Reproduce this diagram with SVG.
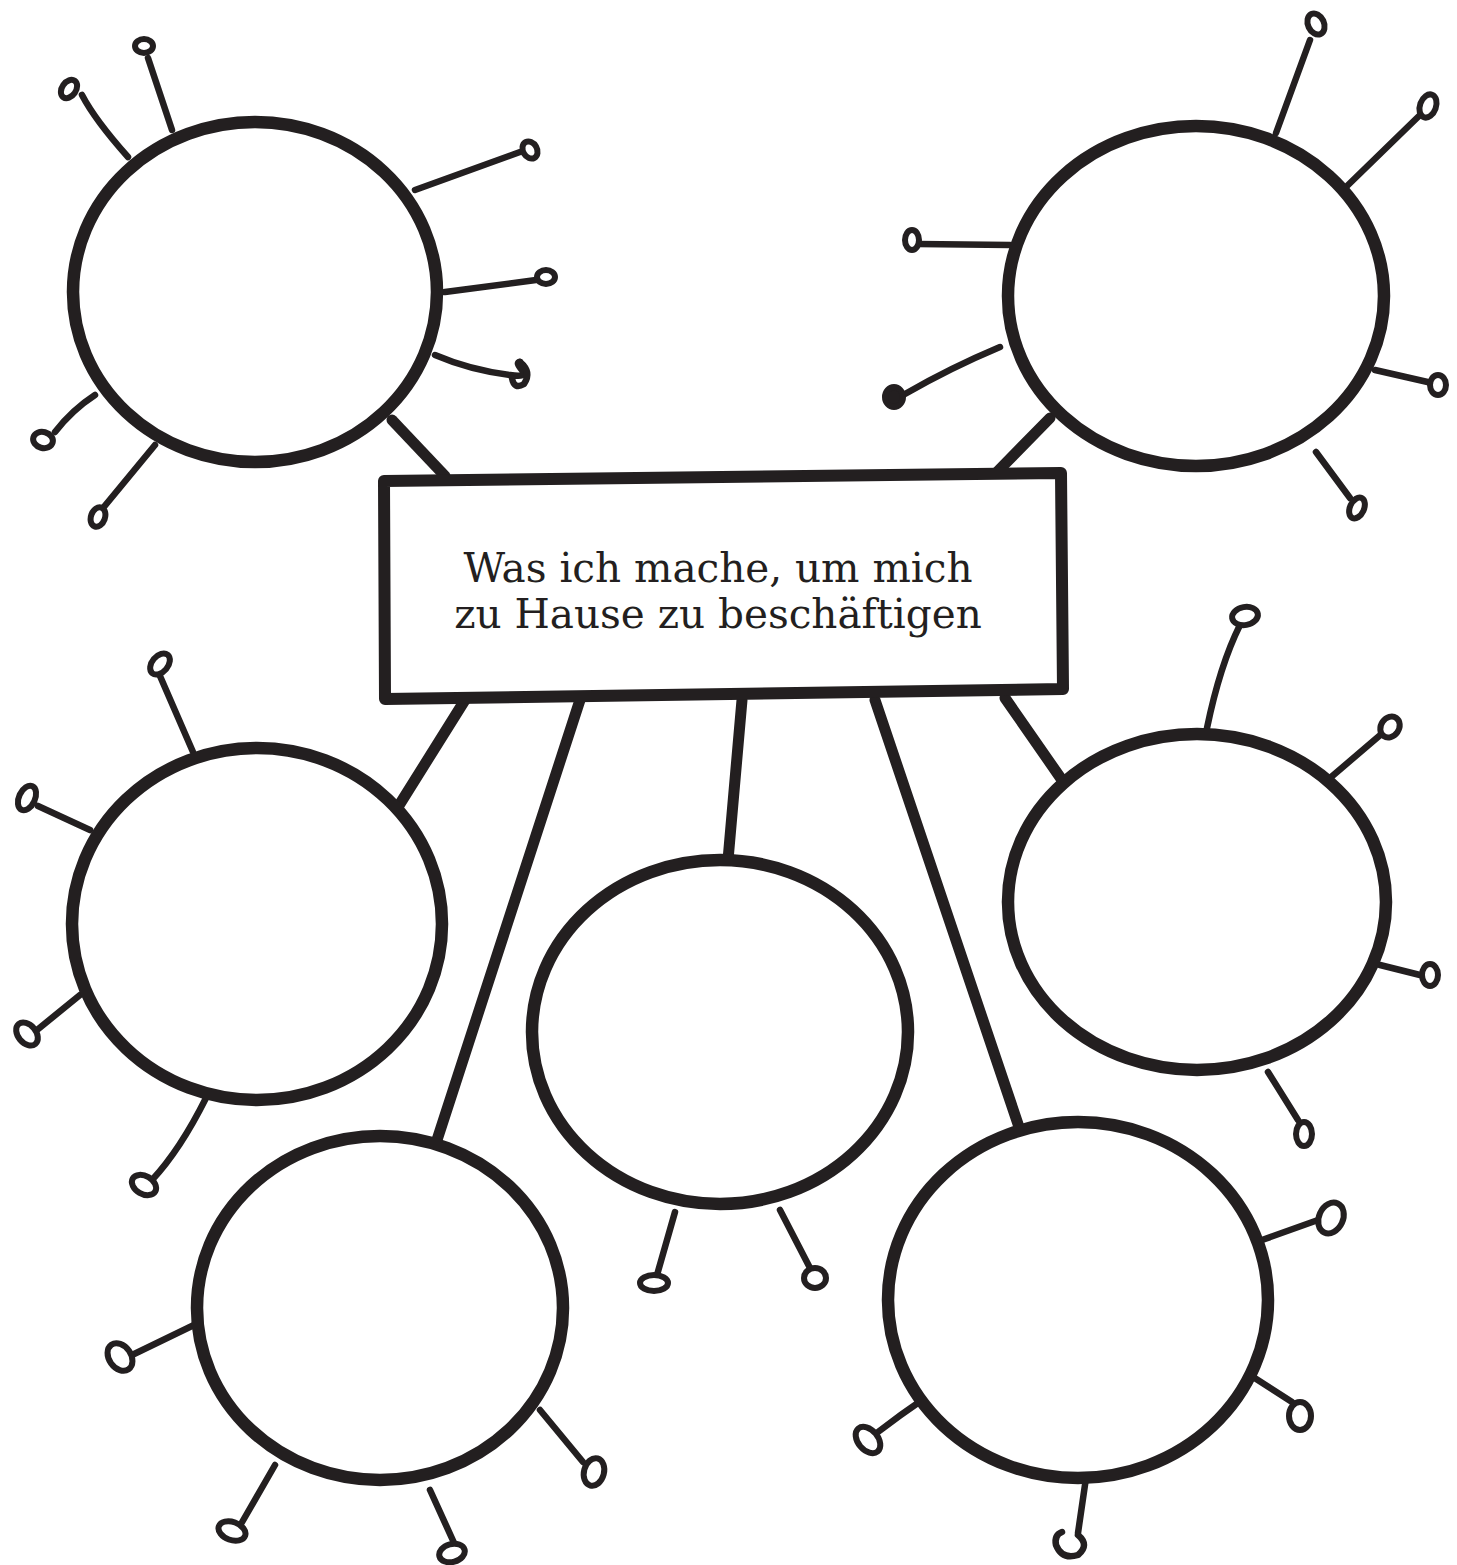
<svg xmlns="http://www.w3.org/2000/svg" width="1457" height="1565" viewBox="0 0 1457 1565">
<style>
.bg{fill:#ffffff}
.conn line{stroke:#231f20;stroke-width:11;stroke-linecap:round}
.node ellipse.c{fill:#ffffff;stroke:#231f20;stroke-width:12.5}
.t path{fill:none;stroke:#231f20;stroke-width:6.5;stroke-linecap:round;stroke-linejoin:round}
.t ellipse{fill:#ffffff;stroke:#231f20;stroke-width:6}
.box{fill:#ffffff;stroke:#231f20;stroke-width:12;stroke-linejoin:round}
.lbl{font-family:"DejaVu Serif","Liberation Serif",serif;font-size:40.5px;fill:#231f20;text-anchor:middle}
</style>
<rect class="bg" x="0" y="0" width="1457" height="1565"/>

<g id="connectors" class="conn">
  <line x1="392" y1="420" x2="445" y2="476"/>
  <line x1="1050" y1="418" x2="997" y2="472"/>
  <line x1="465" y1="700" x2="398" y2="807"/>
  <line x1="580" y1="700" x2="437" y2="1140"/>
  <line x1="742" y1="700" x2="728" y2="860"/>
  <line x1="875" y1="700" x2="1020" y2="1130"/>
  <line x1="1005" y1="698" x2="1062" y2="780"/>
</g>

<g id="node-top-left" class="node">
  <g class="t"><path d="M172,130 L148,58"/><ellipse cx="144" cy="46" rx="9" ry="7"/></g>
  <g class="t"><path d="M128,157 Q95,120 82,95"/><ellipse cx="69" cy="89" rx="7" ry="10" transform="rotate(35 69 89)"/></g>
  <g class="t"><path d="M415,190 L520,152"/><ellipse cx="530" cy="150" rx="7" ry="9" transform="rotate(-30 530 150)"/></g>
  <g class="t"><path d="M445,292 L536,280"/><ellipse cx="546" cy="277" rx="9" ry="7"/></g>
  <g class="t"><path d="M435,355 Q470,370 510,375 Q528,378 522,370 Q515,362 520,362"/></g>
  <g class="t"><path d="M520,362 Q532,372 524,384 Q514,390 512,378"/></g>
  <g class="t"><path d="M95,395 Q72,410 55,432"/><ellipse cx="43" cy="440" rx="10" ry="8" transform="rotate(15 43 440)"/></g>
  <g class="t"><path d="M155,445 L103,508"/><ellipse cx="98" cy="517" rx="7" ry="10" transform="rotate(20 98 517)"/></g>
  <ellipse class="c" cx="255" cy="292" rx="182" ry="170"/>
</g>

<g id="node-top-right" class="node">
  <g class="t"><path d="M1276,133 L1310,40"/><ellipse cx="1316" cy="24" rx="8" ry="11" transform="rotate(-25 1316 24)"/></g>
  <g class="t"><path d="M1346,187 L1420,115"/><ellipse cx="1428" cy="106" rx="8" ry="12" transform="rotate(20 1428 106)"/></g>
  <g class="t"><path d="M1010,245 L918,244"/><ellipse cx="912" cy="240" rx="7" ry="10"/></g>
  <g class="t"><path d="M1000,347 Q950,368 905,394"/><ellipse cx="894" cy="397" rx="9" ry="10" style="fill:#231f20"/></g>
  <g class="t"><path d="M1375,370 L1432,383"/><ellipse cx="1438" cy="385" rx="8" ry="10"/></g>
  <g class="t"><path d="M1316,452 L1350,498"/><ellipse cx="1357" cy="508" rx="7" ry="11" transform="rotate(25 1357 508)"/></g>
  <ellipse class="c" cx="1196" cy="296" rx="188" ry="170"/>
</g>

<g id="node-mid-left" class="node">
  <g class="t"><path d="M193,752 L160,676"/><ellipse cx="160" cy="664" rx="8" ry="12" transform="rotate(40 160 664)"/></g>
  <g class="t"><path d="M90,830 L38,806"/><ellipse cx="27" cy="798" rx="8" ry="13" transform="rotate(25 27 798)"/></g>
  <g class="t"><path d="M80,995 L37,1030"/><ellipse cx="27" cy="1034" rx="9" ry="13" transform="rotate(-40 27 1034)"/></g>
  <g class="t"><path d="M206,1098 Q180,1150 152,1180"/><ellipse cx="144" cy="1185" rx="13" ry="9" transform="rotate(30 144 1185)"/></g>
  <ellipse class="c" cx="257" cy="924" rx="185" ry="176"/>
</g>

<g id="node-center" class="node">
  <g class="t"><path d="M675,1212 L657,1275"/><ellipse cx="654" cy="1283" rx="14" ry="8"/></g>
  <g class="t"><path d="M780,1210 L810,1268"/><ellipse cx="815" cy="1278" rx="11" ry="10"/></g>
  <ellipse class="c" cx="720" cy="1032" rx="188" ry="172"/>
</g>

<g id="node-mid-right" class="node">
  <g class="t"><path d="M1207,728 Q1220,665 1240,625"/><ellipse cx="1245" cy="616" rx="13" ry="9" transform="rotate(-10 1245 616)"/></g>
  <g class="t"><path d="M1330,778 L1385,731"/><ellipse cx="1390" cy="727" rx="9" ry="11" transform="rotate(35 1390 727)"/></g>
  <g class="t"><path d="M1380,965 Q1400,970 1420,975"/><ellipse cx="1430" cy="975" rx="8" ry="11"/></g>
  <g class="t"><path d="M1268,1072 L1298,1120"/><ellipse cx="1304" cy="1134" rx="8" ry="12"/></g>
  <ellipse class="c" cx="1197" cy="902" rx="189" ry="168"/>
</g>

<g id="node-bottom-left" class="node">
  <g class="t"><path d="M194,1325 L130,1356"/><ellipse cx="120" cy="1357" rx="11" ry="15" transform="rotate(-35 120 1357)"/></g>
  <g class="t"><path d="M275,1465 L241,1524"/><ellipse cx="232" cy="1531" rx="14" ry="9" transform="rotate(20 232 1531)"/></g>
  <g class="t"><path d="M430,1490 L455,1545"/><ellipse cx="452" cy="1553" rx="13" ry="9" transform="rotate(-15 452 1553)"/></g>
  <g class="t"><path d="M540,1410 L583,1462"/><ellipse cx="594" cy="1472" rx="10" ry="14" transform="rotate(15 594 1472)"/></g>
  <ellipse class="c" cx="380" cy="1308" rx="183" ry="172"/>
</g>

<g id="node-bottom-right" class="node">
  <g class="t"><path d="M1262,1240 L1318,1220"/><ellipse cx="1331" cy="1218" rx="12" ry="16" transform="rotate(25 1331 1218)"/></g>
  <g class="t"><path d="M1250,1375 L1292,1402"/><ellipse cx="1300" cy="1416" rx="11" ry="14"/></g>
  <g class="t"><path d="M925,1398 Q900,1415 878,1432"/><ellipse cx="868" cy="1440" rx="10" ry="15" transform="rotate(-40 868 1440)"/></g>
  <g class="t"><path d="M1086,1478 L1078,1533"/><path d="M1078,1535 Q1090,1545 1078,1555 Q1062,1560 1056,1545 Q1054,1535 1062,1532"/></g>
  <ellipse class="c" cx="1078" cy="1300" rx="190" ry="178"/>
</g>

<g id="node-main" class="node">
  <path class="box" d="M384,481 L1061,473 L1063,689 L385,699 Z"/>
  <text class="lbl" x="718" y="582">Was ich mache, um mich</text>
  <text class="lbl" x="718" y="628">zu Hause zu beschäftigen</text>
</g>
</svg>
